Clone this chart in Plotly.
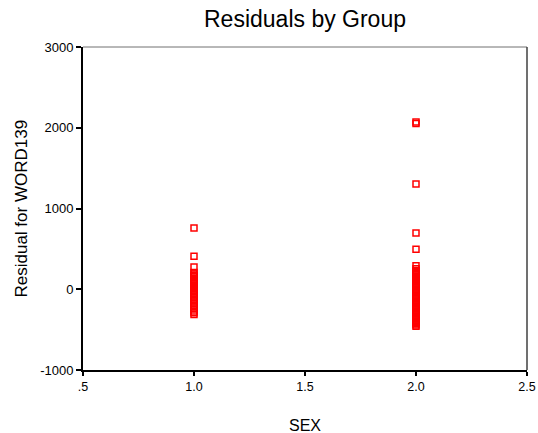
import plotly.graph_objects as go

# Data
sex_1_residuals = [759, 409, 276, 207, 190, 172, 158, 140, 122, 104, 88, 70, 52, 35, 18, 2,
                   -14, -32, -48, -66, -84, -102, -120, -140, -158, -178, -198, -220,
                   -245, -270, -292, -312]
sex_2_residuals = [2070, 2052, 1304, 697, 495, 290, 255, 232, 210, 192, 176, 160, 142, 125,
                   110, 92, 76, 60, 44, 30, 14, 0, -12, -28, -44, -58, -74, -90, -104, -118,
                   -134, -150, -166, -180, -196, -212, -226, -242, -258, -272, -288, -302,
                   -318, -334, -350, -364, -380, -396, -410, -426, -442, -458]

x_ticks = [0.5, 1.0, 1.5, 2.0, 2.5]
x_tick_labels = [".5", "1.0", "1.5", "2.0", "2.5"]
y_ticks = [-1000, 0, 1000, 2000, 3000]
y_tick_labels = ["-1000", "0", "1000", "2000", "3000"]

xs = [1.0] * len(sex_1_residuals) + [2.0] * len(sex_2_residuals)
ys = sex_1_residuals + sex_2_residuals

W, H = 538, 433

fig = go.Figure()
fig.add_trace(go.Scatter(
    x=xs, y=ys, mode="markers",
    marker=dict(symbol="square-open", size=6, color="#ff0000",
                line=dict(width=1.5, color="#ff0000")),
    showlegend=False, hoverinfo="skip", cliponaxis=False))

font = "Liberation Sans, Arial, sans-serif"
fig.update_layout(
    width=W, height=H,
    margin=dict(l=83, r=11, t=47, b=63, autoexpand=False),
    paper_bgcolor="white", plot_bgcolor="white",
    font=dict(family=font, color="black", size=12),
    title=dict(text="Residuals by Group", x=305 / W, xanchor="center",
               y=1 - 19 / H, yanchor="middle",
               font=dict(family=font, size=23, color="black")),
    xaxis=dict(range=[0.5, 2.5], tickvals=x_ticks, ticktext=x_tick_labels,
               showgrid=False, zeroline=False, showline=True, linecolor="black",
               linewidth=2, ticks="outside", ticklen=4, tickwidth=1.5, tickcolor="black",
               tickfont=dict(size=12.5, family=font), automargin=False),
    yaxis=dict(range=[-1000, 3000], tickvals=y_ticks, ticktext=y_tick_labels,
               showgrid=False, zeroline=False, showline=True, linecolor="black",
               linewidth=2, ticks="outside", ticklen=5, tickwidth=1.5, tickcolor="black",
               tickfont=dict(size=13, family=font), automargin=False),
    shapes=[
        dict(type="line", xref="paper", yref="paper", x0=0, x1=1, y0=1, y1=1,
             line=dict(color="#707070", width=1)),
        dict(type="line", xref="paper", yref="paper", x0=1, x1=1, y0=0, y1=1,
             line=dict(color="#404040", width=1.5)),
    ],
    annotations=[
        dict(text="SEX", xref="paper", yref="paper", x=0.5, y=0, xanchor="center",
             yanchor="top", yshift=-45, showarrow=False,
             font=dict(family=font, size=16, color="black")),
        dict(text="Residual for WORD139", xref="paper", yref="paper", x=0, y=0.5,
             xanchor="center", yanchor="middle", xshift=-62, textangle=-90,
             showarrow=False, font=dict(family=font, size=17, color="black")),
    ],
)

fig.write_html(
    "out.html",
    config={"displayModeBar": False},
    post_script="document.body.style.margin='0';document.body.style.overflow='hidden';",
)
